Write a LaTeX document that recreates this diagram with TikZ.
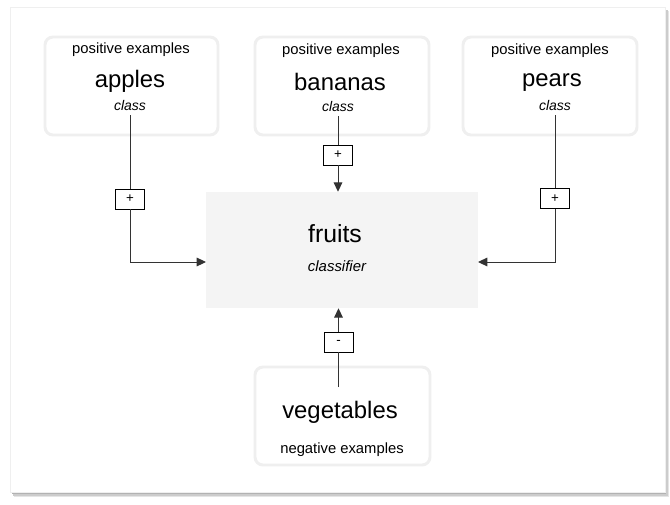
\documentclass[tikz,border=0pt]{standalone}
\usepackage{fontspec}
\setmainfont{Liberation Sans}
\usetikzlibrary{arrows.meta}
\definecolor{boxline}{HTML}{EFEFEF}
\definecolor{fruitfill}{HTML}{F4F4F4}
\definecolor{wire}{HTML}{333333}
\tikzset{
  x=0.75pt, y=-0.75pt,
  softbox/.style={draw=boxline, line width=2.2pt, rounded corners=6pt, fill=white},
  small/.style={inner sep=0pt, font=\fontsize{11.1}{12}\selectfont},
  big/.style={inner sep=0pt, font=\fontsize{17.9}{20}\selectfont},
  cls/.style={inner sep=0pt, font=\fontsize{10.5}{12}\selectfont\itshape},
  signbox/.style={draw=black, line width=0.6pt, fill=white, minimum width=21.75pt, minimum height=15pt, inner sep=0pt, font=\fontsize{10}{12}\selectfont},
  wireline/.style={draw=wire, line width=0.75pt},
  arrowline/.style={wireline, -{Triangle[length=7pt, width=6.5pt]}},
}
\begin{document}
\begin{tikzpicture}
\useasboundingbox (0,0) rectangle (670,504);
% card with shadow
\fill[gray!20] (14,11) rectangle (669,497);
\fill[gray!40] (13,10) rectangle (667.5,495.5);
\fill[gray!60] (12,9) rectangle (666,493.5);
\filldraw[fill=white, draw=boxline, line width=0.4pt] (10,7) rectangle (665,492);

% source boxes
\node[softbox, minimum width=129.75pt, minimum height=73.5pt] (applesbox) at (131.5,86) {};
\node[softbox, minimum width=130.5pt, minimum height=73.5pt] (bananasbox) at (342,86) {};
\node[softbox, minimum width=130.5pt, minimum height=73.5pt] (pearsbox) at (550,86) {};
\node[softbox, minimum width=131.25pt, minimum height=73.5pt] (vegbox) at (342.5,416) {};

% fruits
\node[fill=fruitfill, minimum width=204pt, minimum height=87pt, inner sep=0pt] (fruits) at (342,250) {};
\node[inner sep=0pt, font=\fontsize{18.6}{20}\selectfont] (fruitstxt) at (335,234) {fruits};
\node[inner sep=0pt, font=\fontsize{11.2}{12}\selectfont\itshape] (classifier) at (337,266) {classifier};

% texts
\node[small] (apos) at (131,50) {positive examples};
\node[big] (aname) at (130,81) {apples};
\node[cls] (aclass) at (130,105) {class};

\node[small] (bpos) at (341,51) {positive examples};
\node[big] (bname) at (340,82) {bananas};
\node[cls] (bclass) at (338,106) {class};

\node[small] (ppos) at (550,51) {positive examples};
\node[big] (pname) at (552,83) {pears};
\node[cls] (pclass) at (555,105) {class};

\node[big] (vname) at (340,412) {vegetables};
\node[small] (vneg) at (342,450) {negative examples};

% sign boxes
\node[signbox] (aplus) at (130,199) {+};
\node[signbox] (bplus) at (338,155) {+};
\node[signbox] (pplus) at (555,198.5) {+};
\node[signbox] (vminus) at (338.5,342) {-};

\coordinate (fl) at (206,262);
\coordinate (fr) at (478,262);
\coordinate (vstart) at (338.5,387);

% connectors
\draw[wireline] ([yshift=-3.5pt]aclass.south) -- (aplus.north);
\draw[arrowline] (aplus.south) |- (fl);
\draw[wireline] ([yshift=-3.5pt]bclass.south) -- (bplus.north);
\draw[arrowline] (bplus.south) -- (bplus.south |- fruits.north);
\draw[wireline] ([yshift=-3.5pt]pclass.south) -- (pplus.north);
\draw[arrowline] (pplus.south) |- (fr);
\draw[wireline] (vstart) -- (vminus.south);
\draw[arrowline] (vminus.north) -- (vminus.north |- fruits.south);
\end{tikzpicture}
\end{document}
